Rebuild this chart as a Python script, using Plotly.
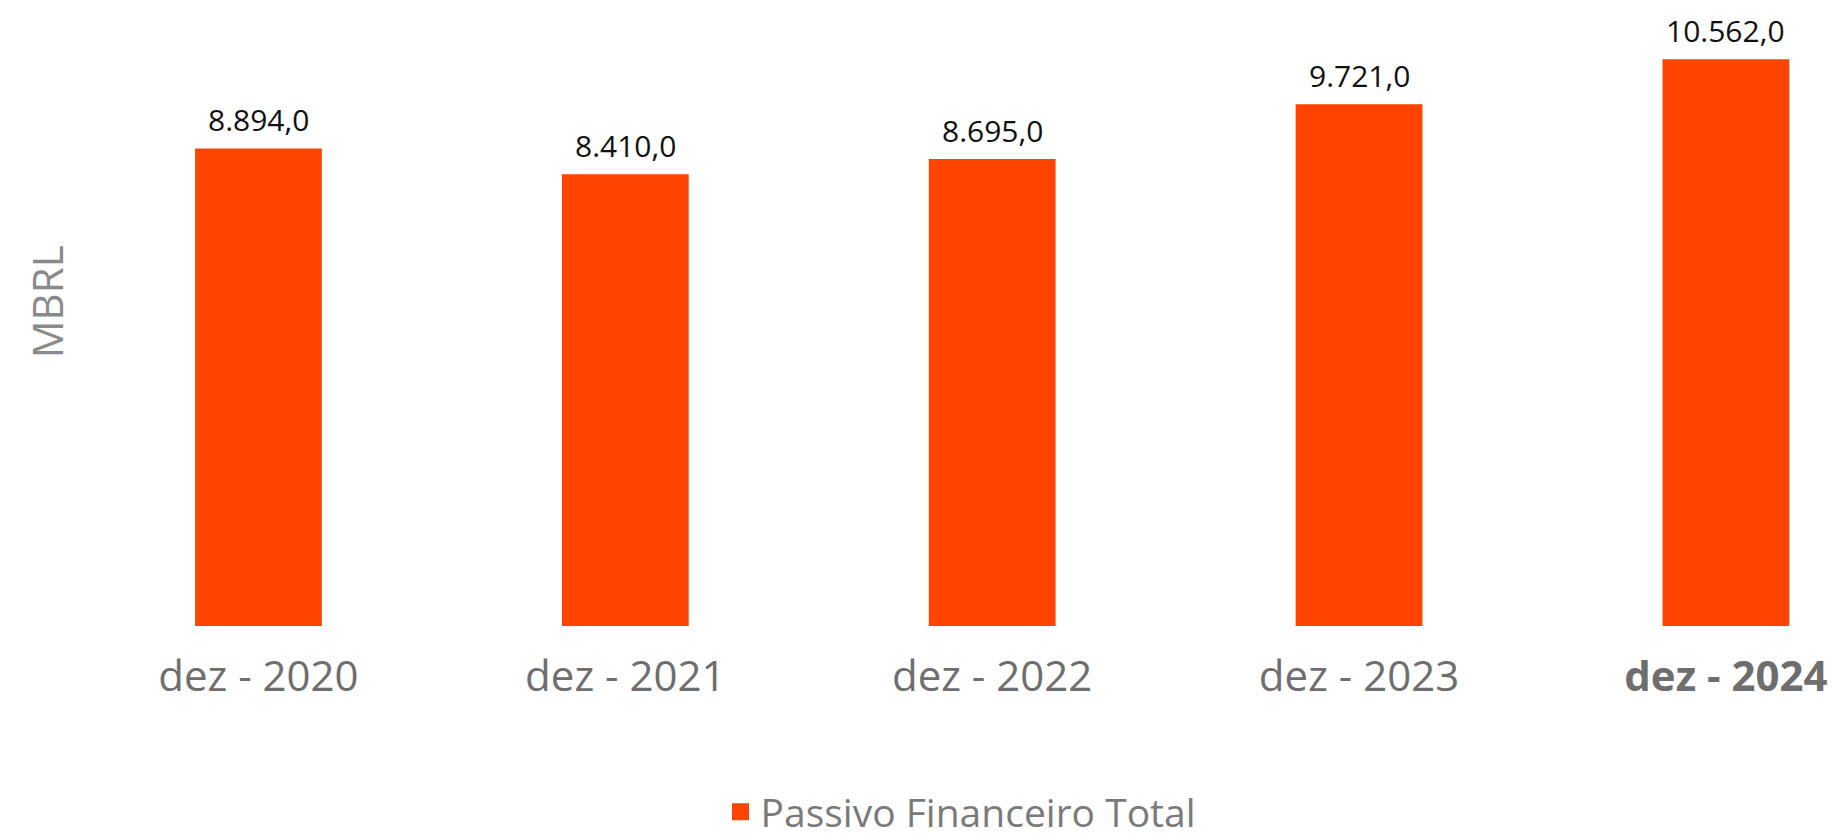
import plotly.graph_objects as go

# Data
categories = ["dez - 2020", "dez - 2021", "dez - 2022", "dez - 2023", "dez - 2024"]
tick_labels = ["dez - 2020", "dez - 2021", "dez - 2022", "dez - 2023", "<b>dez - 2024</b>"]
passivo_total = [8894.0, 8410.0, 8695.0, 9721.0, 10562.0]

BAR_COLOR = "#fe4400"
FONT = "Open Sans, sans-serif"


def fmt_br(v):
    # 8894.0 -> "8.894,0"
    s = f"{v:,.1f}"
    return s.replace(",", "X").replace(".", ",").replace("X", ".")


fig = go.Figure()

fig.add_trace(
    go.Bar(
        x=categories,
        y=passivo_total,
        name="Passivo Financeiro Total",
        marker=dict(color=BAR_COLOR, line=dict(color=BAR_COLOR, width=5)),
        width=0.332,
        hoverinfo="skip",
    )
)

# value labels above each bar
for cat, val in zip(categories, passivo_total):
    fig.add_annotation(
        x=cat, y=val,
        text=fmt_br(val),
        showarrow=False,
        yanchor="bottom",
        yshift=9,
        font=dict(size=30, color="#111111", family=FONT),
    )

# y axis title placed by hand (sits above the plot centre in the reference)
fig.add_annotation(
    xref="paper", yref="paper",
    x=-0.016, y=0.525,
    text="MBRL",
    textangle=-90,
    showarrow=False,
    xanchor="center", yanchor="middle",
    font=dict(size=42, color="#8a8a8a", family=FONT),
)

fig.update_layout(
    width=1839,
    height=836,
    plot_bgcolor="white",
    paper_bgcolor="white",
    margin=dict(l=67, r=0, t=0, b=217),
    showlegend=True,
    legend=dict(
        orientation="h",
        x=0.5, xanchor="center",
        y=-0.3, yanchor="middle",
        font=dict(size=39, color="#7a7a7a", family=FONT),
    ),
    xaxis=dict(
        categoryorder="array",
        categoryarray=categories,
        tickvals=categories,
        ticktext=tick_labels,
        range=[-0.5, 4.33],
        showgrid=False,
        showline=False,
        zeroline=False,
        ticks="",
        ticklabelstandoff=22,
        tickfont=dict(size=42, color="#6e6e6e", family=FONT),
    ),
    yaxis=dict(
        range=[0, 11570],
        showgrid=False,
        zeroline=False,
        showline=False,
        showticklabels=False,
        ticks="",
    ),
)

fig.write_html("out.html")
